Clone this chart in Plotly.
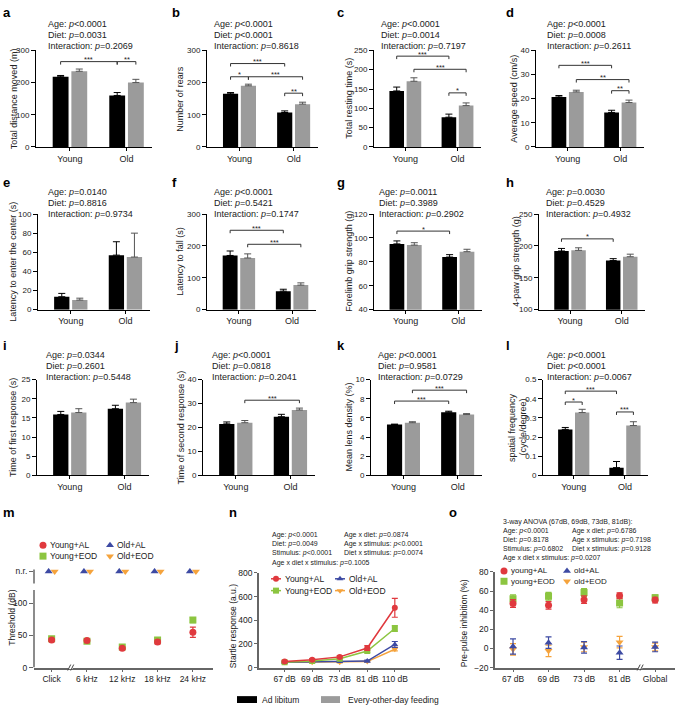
import plotly.graph_objects as go

W, H = 675, 710
FONT = "Arial, Liberation Sans, Helvetica, sans-serif"

# ======================= DATA =======================
groups = ["Young", "Old"]

a_al, a_al_err = [218, 160], [4, 9]
a_eod, a_eod_err = [235, 200], [7, 10]
b_al, b_al_err = [165, 107], [4, 5]
b_eod, b_eod_err = [190, 133], [5, 6]
c_al, c_al_err = [145, 77], [10, 8]
c_eod, c_eod_err = [170, 107], [9, 7]
d_al, d_al_err = [20.7, 14.3], [0.6, 0.9]
d_eod, d_eod_err = [22.8, 18.4], [0.7, 1.0]
e_al, e_al_err = [13.5, 57], [3.5, 14]
e_eod, e_eod_err = [10, 55], [2, 25]
f_al, f_al_err = [170, 58], [14, 6]
f_eod, f_eod_err = [162, 77], [13, 7]
g_al, g_al_err = [95, 84], [2.5, 2]
g_eod, g_eod_err = [94, 88.5], [2, 2]
h_al, h_al_err = [192, 177], [4, 3]
h_eod, h_eod_err = [193, 183], [4, 4]
i_al, i_al_err = [15.9, 17.4], [0.8, 0.9]
i_eod, i_eod_err = [16.4, 19.0], [1.0, 0.9]
j_al, j_al_err = [21.5, 24.5], [0.8, 1.0]
j_eod, j_eod_err = [22.0, 27.3], [0.9, 0.8]
k_al, k_al_err = [5.3, 6.6], [0.05, 0.1]
k_eod, k_eod_err = [5.5, 6.35], [0.1, 0.1]
l_al, l_al_err = [0.24, 0.04], [0.01, 0.032]
l_eod, l_eod_err = [0.328, 0.26], [0.017, 0.02]

a_stats = ["Age: <i>p</i>&lt;0.0001", "Diet: <i>p</i>=0.0031", "Interaction: <i>p</i>=0.2069"]
b_stats = ["Age: <i>p</i>&lt;0.0001", "Diet: <i>p</i>&lt;0.0001", "Interaction: <i>p</i>=0.8618"]
c_stats = ["Age: <i>p</i>&lt;0.0001", "Diet: <i>p</i>=0.0014", "Interaction: <i>p</i>=0.7197"]
d_stats = ["Age: <i>p</i>&lt;0.0001", "Diet: <i>p</i>=0.0008", "Interaction: <i>p</i>=0.2611"]
e_stats = ["Age: <i>p</i>=0.0140", "Diet: <i>p</i>=0.8816", "Interaction: <i>p</i>=0.9734"]
f_stats = ["Age: <i>p</i>&lt;0.0001", "Diet: <i>p</i>=0.5421", "Interaction: <i>p</i>=0.1747"]
g_stats = ["Age: <i>p</i>=0.0011", "Diet: <i>p</i>=0.3989", "Interaction: <i>p</i>=0.2902"]
h_stats = ["Age: <i>p</i>=0.0030", "Diet: <i>p</i>=0.4529", "Interaction: <i>p</i>=0.4932"]
i_stats = ["Age: <i>p</i>=0.0344", "Diet: <i>p</i>=0.2601", "Interaction: <i>p</i>=0.5448"]
j_stats = ["Age: <i>p</i>&lt;0.0001", "Diet: <i>p</i>=0.0818", "Interaction: <i>p</i>=0.2041"]
k_stats = ["Age: <i>p</i>&lt;0.0001", "Diet: <i>p</i>=0.9581", "Interaction: <i>p</i>=0.0729"]
l_stats = ["Age: <i>p</i>&lt;0.0001", "Diet: <i>p</i>&lt;0.0001", "Interaction: <i>p</i>=0.0067"]

# brackets: (bar from, bar to, level, label); bars 0=Young AL, 1=Young EOD, 2=Old AL, 3=Old EOD
a_br = [(0, 2, 265, "***"), (2, 3, 265, "**")]
b_br = [(0, 2, 259, "***"), (0, 1, 218, "*"), (1, 3, 218, "***"), (2, 3, 167, "**")]
c_br = [(0, 2, 235, "***"), (1, 3, 201, "***"), (2, 3, 140, "*")]
d_br = [(0, 2, 33.8, "***"), (1, 3, 27.9, "**"), (2, 3, 23.3, "**")]
e_br = []
f_br = [(0, 2, 249, "***"), (1, 3, 205, "***")]
g_br = [(0, 2, 105.7, "*")]
h_br = [(0, 2, 211, "*")]
i_br = []
j_br = [(1, 3, 31.4, "***")]
k_br = [(0, 2, 7.76, "***"), (1, 3, 8.9, "***")]
l_br = [(0, 2, 0.44, "***"), (0, 1, 0.383, "*"), (2, 3, 0.331, "***")]

# m: ABR thresholds
m_stim = ["Click", "6 kHz", "12 kHz", "18 kHz", "24 kHz"]
m_young_al, m_young_al_err = [43, 42, 30, 40, 55], [2, 2, 1.5, 3, 8]
m_young_eod, m_young_eod_err = [45, 41, 32, 43, 74], [2, 2, 1.5, 3, 4]
m_old_al = ["n.r.", "n.r.", "n.r.", "n.r.", "n.r."]
m_old_eod = ["n.r.", "n.r.", "n.r.", "n.r.", "n.r."]
NR_VALUE = 150

# n: startle response
n_stim = ["67 dB", "69 dB", "73 dB", "81 dB", "110 dB"]
n_young_al, n_young_al_err = [50, 65, 90, 165, 505], [8, 8, 10, 20, 80]
n_young_eod, n_young_eod_err = [45, 55, 75, 140, 330], [5, 5, 8, 12, 25]
n_old_al, n_old_al_err = [45, 50, 50, 55, 195], [5, 5, 5, 8, 25]
n_old_eod, n_old_eod_err = [45, 45, 45, 50, 155], [5, 5, 5, 5, 15]
n_stats_left = ["Age: <i>p</i>&lt;0.0001", "Diet: <i>p</i>=0.0049", "Stimulus: <i>p</i>&lt;0.0001",
                "Age x diet x stimulus: <i>p</i>=0.1005"]
n_stats_right = ["Age x diet: <i>p</i>=0.0874", "Age x stimulus: <i>p</i>&lt;0.0001",
                 "Diet x stimulus: <i>p</i>=0.0074"]

# o: pre-pulse inhibition
o_stim = ["67 dB", "69 dB", "73 dB", "81 dB", "Global"]
o_young_al, o_young_al_err = [47, 45, 51, 55, 50.5], [4, 4, 4, 3, 3]
o_young_eod, o_young_eod_err = [52, 54.5, 58.5, 47.5, 53], [4, 4, 4, 5, 3]
o_old_al, o_old_al_err = [2, 6, 1, -4.5, 1.5], [8, 6, 6, 7, 5]
o_old_eod, o_old_eod_err = [-1, -2.5, 1.5, 6.5, 1.5], [6, 6, 5, 6, 4]
o_stats_left = ["3-way ANOVA (67dB, 69dB, 73dB, 81dB):", "Age: <i>p</i>&lt;0.0001", "Diet: <i>p</i>=0.8178",
                "Stimulus: <i>p</i>=0.6802", "Age x diet x stimulus: <i>p</i>=0.0207"]
o_stats_right = ["Age x diet: <i>p</i>=0.6786", "Age x stimulus: <i>p</i>=0.7198", "Diet x stimulus: <i>p</i>=0.9128"]

legend_bottom = ["Ad libitum", "Every-other-day feeding"]

# ======================= STYLE / LAYOUT =======================
AL_C, EOD_C = "#000000", "#9b9b9b"
RED, GREEN, BLUE, ORANGE = "#e0393e", "#8cc540", "#3d4aa3", "#f5a33c"
AXC = "#666666"
TXT = "#222222"
OFF, BW = 0.165, 0.28
XR_BAR = [-0.6, 1.45]
TICKF = 8

fig = go.Figure()
lay = dict(width=W, height=H, autosize=False, margin=dict(l=0, r=0, t=0, b=0),
           paper_bgcolor="white", plot_bgcolor="rgba(0,0,0,0)", showlegend=False,
           font=dict(family=FONT, size=9, color="black"))
shapes, annots = [], []


def names(idx):
    s = "" if idx == 1 else str(idx)
    return f"xaxis{s}", f"yaxis{s}", f"x{s}", f"y{s}"


def add_axes(idx, box, xr, yr, xkw, ykw):
    xa, ya, xs, ys = names(idx)
    x0, x1, y0, y1 = box
    base = dict(showgrid=False, zeroline=False, ticks="outside", fixedrange=True)
    lay[xa] = {**base, "domain": [x0 / W, x1 / W], "range": xr, "anchor": ys, **xkw}
    lay[ya] = {**base, "domain": [1 - y1 / H, 1 - y0 / H], "range": yr, "anchor": xs, **ykw}
    return xs, ys


def text(x, y, t, size=9, color=TXT, anchor="left", bold=False, angle=0):
    annots.append(dict(xref="paper", yref="paper", x=x / W, y=1 - y / H, text=f"<b>{t}</b>" if bold else t,
                       showarrow=False, xanchor=anchor, yanchor="middle", borderpad=0, textangle=angle,
                       font=dict(size=size, color=color, family=FONT)))


bar_panels = [
    ("a", a_al, a_al_err, a_eod, a_eod_err, [0, 300], 100, ["Total distance moved (m)"], a_stats, a_br),
    ("b", b_al, b_al_err, b_eod, b_eod_err, [0, 300], 100, ["Number of rears"], b_stats, b_br),
    ("c", c_al, c_al_err, c_eod, c_eod_err, [0, 250], 50, ["Total resting time (s)"], c_stats, c_br),
    ("d", d_al, d_al_err, d_eod, d_eod_err, [0, 40], 10, ["Average speed (cm/s)"], d_stats, d_br),
    ("e", e_al, e_al_err, e_eod, e_eod_err, [0, 100], 20, ["Latency to enter the center (s)"], e_stats, e_br),
    ("f", f_al, f_al_err, f_eod, f_eod_err, [0, 300], 100, ["Latency to fall (s)"], f_stats, f_br),
    ("g", g_al, g_al_err, g_eod, g_eod_err, [40, 120], 20, ["Forelimb grip strength (g)"], g_stats, g_br),
    ("h", h_al, h_al_err, h_eod, h_eod_err, [100, 250], 50, ["4-paw grip strength (g)"], h_stats, h_br),
    ("i", i_al, i_al_err, i_eod, i_eod_err, [0, 25], 5, ["Time of first response (s)"], i_stats, i_br),
    ("j", j_al, j_al_err, j_eod, j_eod_err, [0, 40], 10, ["Time of second response (s)"], j_stats, j_br),
    ("k", k_al, k_al_err, k_eod, k_eod_err, [0, 10], 2, ["Mean lens density (%)"], k_stats, k_br),
    ("l", l_al, l_al_err, l_eod, l_eod_err, [0, 0.5], 0.1, ["spatial frequency", "(cycle/degree)"], l_stats, l_br),
]

BOX = {
    "a": (36, 152, 46, 144), "b": (207, 318, 46, 144), "c": (374, 481, 46, 144), "d": (536, 644, 46, 144),
    "e": (38, 150, 212, 309), "f": (207, 316, 212, 309), "g": (374, 482, 212, 309), "h": (539, 645, 212, 309),
    "i": (37, 149, 380, 477), "j": (203, 315, 380, 477), "k": (371, 482, 380, 477), "l": (543, 648, 380, 477),
    "m": (34, 213, 571, 672), "n": (259, 440, 576, 672), "o": (495, 675, 575, 672),
}
TITLE_X = {"a": [13.5], "b": [180], "c": [349], "d": [514], "e": [13], "f": [180], "g": [349], "h": [516],
           "i": [13.5], "j": [181], "k": [349], "l": [512.5, 523], "m": [12], "n": [233], "o": [464]}
TITLE_Y = {"n": 630, "o": 627}
STAT_X = {"a": 47, "b": 213, "c": 380, "d": 546, "e": 47, "f": 213, "g": 378, "h": 545,
          "i": 45, "j": 211, "k": 377, "l": 546}
ROW_STAT_Y = {0: [19, 30.5, 41.5], 1: [190, 201, 212], 2: [355, 366, 377]}
LETTER_XY = {"a": (2, 8), "b": (171, 8), "c": (336, 8), "d": (505, 8),
             "e": (2, 180), "f": (171, 180), "g": (336, 180), "h": (505, 180),
             "i": (2, 345), "j": (173, 345), "k": (336, 345), "l": (505, 345),
             "m": (2, 515), "n": (228, 515), "o": (448, 515)}


def ytitle_ann(L, lines, size=9):
    box = BOX[L]
    cy = TITLE_Y.get(L, (box[2] + box[3]) / 2)
    for t, tx in zip(lines, TITLE_X[L]):
        text(tx, cy, t, size=size, color=TXT, anchor="center", angle=-90)


for n_i, (L, al, ale, eod, eode, yr, dt, ytitle, stats, brs) in enumerate(bar_panels):
    idx = n_i + 1
    box = BOX[L]
    xs, ys = add_axes(
        idx, box, XR_BAR, yr,
        dict(tickmode="array", tickvals=[0, 1], ticktext=groups, showline=True, linecolor="black",
             linewidth=1, ticklen=3, tickwidth=1, tickcolor="black", tickfont=dict(size=9, color=TXT)),
        dict(tickmode="linear", tick0=yr[0], dtick=dt, showline=True, linecolor="black", linewidth=1,
             ticklen=4, tickwidth=1, tickcolor="black", tickfont=dict(size=TICKF, color=TXT)))
    ytitle_ann(L, ytitle)
    fig.add_trace(go.Bar(x=[0, 1], y=al, width=BW, offset=-OFF - BW / 2, marker=dict(color=AL_C, line=dict(width=0)),
                         error_y=dict(type="data", array=ale, arrayminus=[0, 0], symmetric=False,
                                      color="black", thickness=1, width=3.5),
                         xaxis=xs, yaxis=ys, name=legend_bottom[0]))
    fig.add_trace(go.Bar(x=[0, 1], y=eod, width=BW, offset=OFF - BW / 2, marker=dict(color=EOD_C, line=dict(width=0)),
                         error_y=dict(type="data", array=eode, arrayminus=[0, 0], symmetric=False,
                                      color="#555555", thickness=1, width=3.5),
                         xaxis=xs, yaxis=ys, name=legend_bottom[1]))
    # brackets
    xpos = [0 - OFF, 0 + OFF, 1 - OFF, 1 + OFF]
    tick = (yr[1] - yr[0]) / (box[3] - box[2]) * 3
    for (p, q, lev, lab) in brs:
        x1, x2 = xpos[p], xpos[q]
        shapes.append(dict(type="path", xref=xs, yref=ys,
                           path=f"M {x1},{lev - tick} L {x1},{lev} L {x2},{lev} L {x2},{lev - tick}",
                           line=dict(color="#333333", width=1)))
        annots.append(dict(xref=xs, yref=ys, x=(x1 + x2) / 2, y=lev, text=lab, showarrow=False,
                           xanchor="center", yanchor="bottom", yshift=-3.5, borderpad=0,
                           font=dict(size=7.5, color=TXT, family=FONT)))
    row = n_i // 4
    for t, yy in zip(stats, ROW_STAT_Y[row]):
        text(STAT_X[L], yy, t, size=9)
    text(LETTER_XY[L][0], LETTER_XY[L][1], L, size=13, color="black", bold=True)


def break_mark(box, xr, xval):
    x0, x1, y0, y1 = box
    px = x0 + (xval - xr[0]) / (xr[1] - xr[0]) * (x1 - x0)
    py = y1
    shapes.append(dict(type="line", xref="paper", yref="paper", x0=(px - 2) / W, x1=(px + 2) / W,
                       y0=1 - py / H, y1=1 - py / H, line=dict(color="white", width=3)))
    for dxp in (-1.5, 1.5):
        shapes.append(dict(type="line", xref="paper", yref="paper", x0=(px + dxp - 1.5) / W, x1=(px + dxp + 1.5) / W,
                           y0=1 - (py + 3) / H, y1=1 - (py - 3) / H, line=dict(color="#444444", width=1)))


bot_x = lambda ticks, labels: dict(tickmode="array", tickvals=ticks, ticktext=labels, showline=True,
                                   linecolor=AXC, linewidth=1.5, ticklen=3, tickwidth=1.2, tickcolor=AXC,
                                   tickfont=dict(size=8.5, color=TXT))

# ---------------- m ----------------
m_xr, m_yr = [-0.5, 4.57], [0, 155.4]
xs, ys = add_axes(13, BOX["m"], m_xr, m_yr, bot_x(list(range(5)), m_stim),
                  dict(tickmode="array", tickvals=[0, 50, 100, NR_VALUE], ticktext=["0", "50", "100", "n.r."],
                       showline=False, ticklen=4, tickwidth=1.2, tickcolor=AXC, tickfont=dict(size=8.5, color=TXT)))
ytitle_ann("m", ["Threshold (dB)"], 8.5)
for (s0, s1) in [(0, 121), (131, 153)]:
    shapes.append(dict(type="line", xref=f"{xs} domain", yref=ys, x0=0, x1=0, y0=s0, y1=s1,
                       line=dict(color=AXC, width=1.5)))
break_mark(BOX["m"], m_xr, 0.54)
mx = list(range(5))
fig.add_trace(go.Scatter(x=mx, y=m_young_eod, mode="markers", xaxis=xs, yaxis=ys,
                         marker=dict(symbol="square", size=7, color=GREEN),
                         error_y=dict(type="data", array=m_young_eod_err, color=GREEN, thickness=1.2, width=3)))
fig.add_trace(go.Scatter(x=mx, y=m_young_al, mode="markers", xaxis=xs, yaxis=ys,
                         marker=dict(symbol="circle", size=7, color=RED),
                         error_y=dict(type="data", array=m_young_al_err, color=RED, thickness=1.2, width=3)))
fig.add_trace(go.Scatter(x=[v - 0.085 for v in mx], y=[NR_VALUE if s == "n.r." else s for s in m_old_al],
                         mode="markers", xaxis=xs, yaxis=ys, marker=dict(symbol="triangle-up", size=7, color=BLUE)))
fig.add_trace(go.Scatter(x=[v + 0.085 for v in mx], y=[NR_VALUE if s == "n.r." else s for s in m_old_eod],
                         mode="markers", xaxis=xs, yaxis=ys, marker=dict(symbol="triangle-down", size=7, color=ORANGE)))
text(*LETTER_XY["m"], "m", size=13, color="black", bold=True)

# ---------------- n ----------------
n_xr, n_yr = [-0.93, 5.64], [0, 800]
xs, ys = add_axes(14, BOX["n"], n_xr, n_yr, bot_x(list(range(5)), n_stim),
                  dict(tickmode="linear", tick0=0, dtick=200, showline=True, linecolor=AXC, linewidth=1.5,
                       ticklen=3, tickwidth=1.2, tickcolor=AXC, tickfont=dict(size=8.5, color=TXT)))
ytitle_ann("n", ["Startle response (a.u.)"], 8.5)
nx = list(range(5))
for yv, ev, col, sym in [(n_old_eod, n_old_eod_err, ORANGE, "triangle-down"),
                         (n_old_al, n_old_al_err, BLUE, "triangle-up"),
                         (n_young_eod, n_young_eod_err, GREEN, "square"),
                         (n_young_al, n_young_al_err, RED, "circle")]:
    fig.add_trace(go.Scatter(x=nx, y=yv, mode="lines+markers", xaxis=xs, yaxis=ys,
                             line=dict(color=col, width=1.5), marker=dict(symbol=sym, size=6, color=col),
                             error_y=dict(type="data", array=ev, color=col, thickness=1.2, width=3)))
for t, yy in zip(n_stats_left, [537.5, 546.8, 556, 565.5]):
    text(271, yy, t, size=7)
for t, yy in zip(n_stats_right, [537.5, 546.8, 556]):
    text(343, yy, t, size=7)
text(*LETTER_XY["n"], "n", size=13, color="black", bold=True)

# ---------------- o ----------------
o_xr, o_yr = [-0.507, 4.56], [-20, 80]
xs, ys = add_axes(15, BOX["o"], o_xr, o_yr, bot_x(list(range(5)), o_stim),
                  dict(tickmode="linear", tick0=-20, dtick=20, showline=True, linecolor=AXC, linewidth=1.5,
                       ticklen=3, tickwidth=1.2, tickcolor=AXC, tickfont=dict(size=8.5, color=TXT)))
ytitle_ann("o", ["Pre-pulse inhibition (%)"], 8.5)
break_mark(BOX["o"], o_xr, 3.58)
ox = list(range(5))
for yv, ev, col, sym in [(o_old_eod, o_old_eod_err, ORANGE, "triangle-down"),
                         (o_old_al, o_old_al_err, BLUE, "triangle-up"),
                         (o_young_eod, o_young_eod_err, GREEN, "square"),
                         (o_young_al, o_young_al_err, RED, "circle")]:
    fig.add_trace(go.Scatter(x=ox, y=yv, mode="markers", xaxis=xs, yaxis=ys,
                             marker=dict(symbol=sym, size=7, color=col),
                             error_y=dict(type="data", array=ev, color=col, thickness=1.2, width=3)))
for t, yy in zip(o_stats_left, [524, 533.3, 542.7, 552, 561.3]):
    text(502, yy, t, size=7)
for t, yy in zip(o_stats_right, [533.3, 542.7, 552]):
    text(571, yy, t, size=7)
text(*LETTER_XY["o"], "o", size=13, color="black", bold=True)

# ---------------- legends (pixel canvas) ----------------
lay["xaxis16"] = dict(domain=[0, 1], range=[0, W], visible=False, fixedrange=True, anchor="y16")
lay["yaxis16"] = dict(domain=[0, 1], range=[H, 0], visible=False, fixedrange=True, anchor="x16")

series_names_m = ["Young+AL", "Young+EOD", "Old+AL", "Old+EOD"]
series_names_o = ["young+AL", "young+EOD", "old+AL", "old+EOD"]
series_style = [(RED, "circle"), (GREEN, "square"), (BLUE, "triangle-up"), (ORANGE, "triangle-down")]


def legend_block(names_, xcols, ys_, size, lines=False, tsize=8.5):
    for k, (nm, (col, sym)) in enumerate(zip(names_, series_style)):
        cx = xcols[k // 2]
        cy = ys_[k % 2]
        if lines:
            fig.add_trace(go.Scatter(x=[cx - 5, cx + 5], y=[cy, cy], mode="lines", xaxis="x16", yaxis="y16",
                                     line=dict(color=col, width=1.5), hoverinfo="skip"))
            tx = cx + 8
        else:
            tx = cx + 6
        fig.add_trace(go.Scatter(x=[cx], y=[cy], mode="markers", xaxis="x16", yaxis="y16",
                                 marker=dict(symbol=sym, size=size, color=col), hoverinfo="skip"))
        text(tx, cy, nm, size=tsize)


legend_block(series_names_m, [43, 110], [548, 559], 7)
legend_block(series_names_m, [276, 340], [582, 594], 6, lines=True)
legend_block(series_names_o, [504, 567], [574, 584.5], 7, tsize=8)

# bottom legend
for (x0, x1, col), nm, tx in zip([(237, 257, AL_C), (321, 340, EOD_C)], legend_bottom, [261, 347]):
    shapes.append(dict(type="rect", xref="paper", yref="paper", x0=x0 / W, x1=x1 / W,
                       y0=1 - 708 / H, y1=1 - 701 / H, fillcolor=col, line=dict(width=0)))
    text(tx, 704.5, nm, size=8.5)

lay["shapes"] = shapes
lay["annotations"] = annots
fig.update_layout(**lay)
fig.write_html("out.html", config={"responsive": False, "displayModeBar": False},
               post_script="document.body.style.margin='0';document.body.style.padding='0';"
                           "document.body.style.overflow='hidden';")
